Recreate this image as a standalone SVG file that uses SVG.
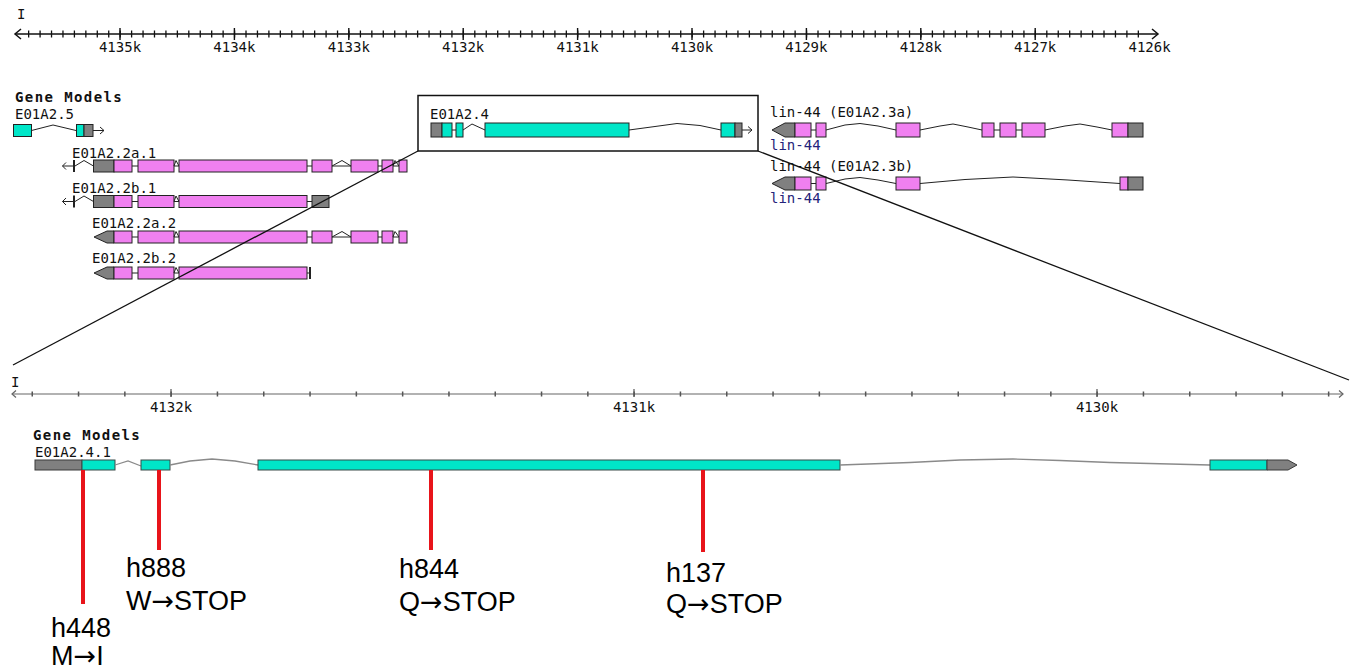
<svg xmlns="http://www.w3.org/2000/svg" width="1350" height="671" viewBox="0 0 1350 671">
<defs>
<style>
.t{font-family:"DejaVu Sans Mono","Liberation Mono",monospace;font-size:14px;fill:#111}
.tb{font-family:"DejaVu Sans Mono","Liberation Mono",monospace;font-size:14px;font-weight:bold;letter-spacing:1.4px;fill:#111}
.lbl{font-family:"DejaVu Sans Mono",monospace;font-size:14px;fill:#111;text-anchor:middle}
.blue{fill:#23237a}
.cy{fill:#00e6c8;stroke:#222;stroke-width:1}
.pk{fill:#f080f0;stroke:#222;stroke-width:1}
.gr{fill:#808080;stroke:#222;stroke-width:1}
.in{fill:none;stroke:#222;stroke-width:1}
.bcy{fill:#00e6c8;stroke:#3a4a48;stroke-width:1}
.bgr{fill:#808080;stroke:#3a3a3a;stroke-width:1}
.bin{fill:none;stroke:#8a8a8a;stroke-width:1.3}
.red{stroke:#e8141a;stroke-width:4}
.mut{font-family:"Liberation Sans",Arial,sans-serif;font-size:27px;fill:#000}
.ar{font-family:"DejaVu Sans",sans-serif}
</style>
</defs>
<rect width="1350" height="671" fill="#fff"/>

<g id="ruler-top">
<text class="t" x="17" y="19" font-size="12">I</text>
<line x1="15" y1="34" x2="1158" y2="34" stroke="#111" stroke-width="1.5"/>
<polyline points="21,29 15,34 21,39" fill="none" stroke="#111" stroke-width="1.5"/>
<polyline points="1152,29 1158,34 1152,39" fill="none" stroke="#111" stroke-width="1.5"/>
<line x1="28" y1="34" x2="1140" y2="34" stroke="#111" stroke-width="7" stroke-dasharray="1.3 10.14"/>
<path d="M120 28v12M234.4 28v12M348.8 28v12M463.2 28v12M577.6 28v12M692 28v12M806.4 28v12M920.8 28v12M1035.2 28v12" stroke="#111" stroke-width="1.4"/>
<text class="lbl" x="120" y="52">4135k</text>
<text class="lbl" x="234.4" y="52">4134k</text>
<text class="lbl" x="348.8" y="52">4133k</text>
<text class="lbl" x="463.2" y="52">4132k</text>
<text class="lbl" x="577.6" y="52">4131k</text>
<text class="lbl" x="692" y="52">4130k</text>
<text class="lbl" x="806.4" y="52">4129k</text>
<text class="lbl" x="920.8" y="52">4128k</text>
<text class="lbl" x="1035.2" y="52">4127k</text>
<text class="lbl" x="1149.6" y="52">4126k</text>
</g>

<text class="tb" x="15" y="102">Gene Models</text>

<g id="E01A2.5">
<text class="t" x="15" y="119">E01A2.5</text>
<rect class="cy" x="13.5" y="124.5" width="18" height="12"/>
<polyline class="in" points="31.5,130.5 53,125 76,130.5"/>
<rect class="cy" x="76.5" y="124.5" width="7.5" height="12"/>
<rect class="gr" x="84" y="124.5" width="9" height="12"/>
<line x1="93" y1="130.5" x2="104" y2="130.5" stroke="#222"/>
<polyline class="in" points="100,127 104,130.5 100,134"/>
</g>

<g id="E01A2.2a.1">
<text class="t" x="72" y="158">E01A2.2a.1</text>
<polyline class="in" points="66,162.5 62.5,166 66,169.5"/>
<line x1="62.5" y1="166" x2="75" y2="166" stroke="#222"/>
<line x1="74" y1="160" x2="74" y2="172" stroke="#222" stroke-width="2"/>
<polyline class="in" points="75,166 84,160.5 93.5,166"/>
<line x1="114" y1="166" x2="399" y2="166" stroke="#222"/>
<rect class="gr" x="93.5" y="160" width="20.5" height="12"/>
<rect class="pk" x="114" y="160" width="18" height="12"/>
<rect class="pk" x="138" y="160" width="36" height="12"/>
<polyline class="in" points="174,166 176,160.5 179,166"/>
<rect class="pk" x="179" y="160" width="128" height="12"/>
<rect class="pk" x="312" y="160" width="20" height="12"/>
<polyline class="in" points="332,166 342,160.5 351,166" fill="#fff"/>
<rect class="pk" x="351" y="160" width="27" height="12"/>
<rect class="pk" x="382" y="160" width="11" height="12"/>
<polyline class="in" points="393,166 395,160.5 399,166"/>
<rect class="pk" x="399" y="160" width="8" height="12"/>
</g>

<g id="E01A2.2b.1">
<text class="t" x="72" y="193">E01A2.2b.1</text>
<polyline class="in" points="66,198 62.5,201.5 66,205"/>
<line x1="62.5" y1="201.5" x2="75" y2="201.5" stroke="#222"/>
<line x1="74" y1="195.5" x2="74" y2="207.5" stroke="#222" stroke-width="2"/>
<polyline class="in" points="75,201.5 84,196 93.5,201.5"/>
<line x1="114" y1="201.5" x2="312" y2="201.5" stroke="#222"/>
<rect class="gr" x="93.5" y="195.5" width="20.5" height="12"/>
<rect class="pk" x="114" y="195.5" width="18" height="12"/>
<rect class="pk" x="138" y="195.5" width="36" height="12"/>
<polyline class="in" points="174,201.5 176,196 179,201.5"/>
<rect class="pk" x="179" y="195.5" width="128" height="12"/>
<rect class="gr" x="312" y="195.5" width="17" height="12"/>
</g>

<g id="E01A2.2a.2">
<text class="t" x="92" y="228">E01A2.2a.2</text>
<line x1="114" y1="237" x2="399" y2="237" stroke="#222"/>
<polygon class="gr" points="94,237 107,231 114,231 114,243 107,243"/>
<rect class="pk" x="114" y="231" width="18" height="12"/>
<rect class="pk" x="138" y="231" width="36" height="12"/>
<polyline class="in" points="174,237 176,231.5 179,237"/>
<rect class="pk" x="179" y="231" width="128" height="12"/>
<rect class="pk" x="312" y="231" width="20" height="12"/>
<polyline class="in" points="332,237 342,231.5 351,237"/>
<rect class="pk" x="351" y="231" width="27" height="12"/>
<rect class="pk" x="382" y="231" width="11" height="12"/>
<polyline class="in" points="393,237 395,231.5 399,237"/>
<rect class="pk" x="399" y="231" width="8" height="12"/>
</g>

<g id="E01A2.2b.2">
<text class="t" x="92" y="263">E01A2.2b.2</text>
<line x1="114" y1="273" x2="310" y2="273" stroke="#222"/>
<polygon class="gr" points="94,273 107,267 114,267 114,279 107,279"/>
<rect class="pk" x="114" y="267" width="18" height="12"/>
<rect class="pk" x="138" y="267" width="36" height="12"/>
<polyline class="in" points="174,273 176,267.5 179,273"/>
<rect class="pk" x="179" y="267" width="128" height="12"/>
<line x1="310" y1="267" x2="310" y2="279" stroke="#222" stroke-width="2"/>
</g>

<g id="E01A2.4">
<rect x="418" y="95.5" width="340" height="55.5" fill="none" stroke="#111" stroke-width="1.5"/>
<text class="t" x="430" y="119">E01A2.4</text>
<rect class="gr" x="431" y="123" width="11" height="14"/>
<rect class="cy" x="442" y="123" width="10" height="14"/>
<line x1="452" y1="130" x2="456" y2="130" stroke="#222"/>
<rect class="cy" x="456" y="123" width="7" height="14"/>
<polyline class="in" points="463,130 472,124 485,130"/>
<rect class="cy" x="485" y="123" width="144" height="14"/>
<polyline class="in" points="629,130 655,126.5 677,123.5 700,125.5 721,130"/>
<rect class="cy" x="721" y="123" width="14" height="14"/>
<rect class="gr" x="735" y="123" width="7" height="14"/>
<line x1="742" y1="130" x2="752" y2="130" stroke="#222"/>
<polyline class="in" points="748,126.5 752,130 748,133.5"/>
</g>

<g id="lin-44a">
<text class="t" x="770" y="117">lin-44 (E01A2.3a)</text>
<polygon class="gr" points="772,130 785,123 795,123 795,137 785,137"/>
<rect class="pk" x="795" y="123" width="16" height="14"/>
<line x1="811" y1="130" x2="816" y2="130" stroke="#222"/>
<rect class="pk" x="816" y="123" width="10" height="14"/>
<polyline class="in" points="826,130 845,125 860,123.5 878,126 896,130"/>
<rect class="pk" x="896" y="123" width="24" height="14"/>
<polyline class="in" points="920,130 940,126 953,124 968,127 982,130"/>
<rect class="pk" x="982" y="123" width="12" height="14"/>
<line x1="994" y1="130" x2="1000" y2="130" stroke="#222"/>
<rect class="pk" x="1000" y="123" width="16" height="14"/>
<line x1="1016" y1="130" x2="1022" y2="130" stroke="#222"/>
<rect class="pk" x="1022" y="123" width="23" height="14"/>
<polyline class="in" points="1045,130 1065,126 1080,124 1097,127 1112,130"/>
<rect class="pk" x="1112" y="123" width="16" height="14"/>
<rect class="gr" x="1128" y="123" width="15" height="14"/>
<text class="t blue" x="770" y="150">lin-44</text>
</g>

<g id="lin-44b">
<text class="t" x="770" y="171">lin-44 (E01A2.3b)</text>
<polygon class="gr" points="772,183.5 785,177 795,177 795,190 785,190"/>
<rect class="pk" x="795" y="177" width="16" height="13"/>
<line x1="811" y1="183.5" x2="816" y2="183.5" stroke="#222"/>
<rect class="pk" x="816" y="177" width="10" height="13"/>
<polyline class="in" points="826,183.5 845,179 860,177.5 878,180 896,183.5"/>
<rect class="pk" x="896" y="177" width="24" height="13"/>
<polyline class="in" points="920,183.5 965,179.5 1013,177 1068,180 1120,183.5"/>
<rect class="pk" x="1120" y="177" width="8" height="13"/>
<rect class="gr" x="1128" y="177" width="15" height="13"/>
<text class="t blue" x="770" y="203">lin-44</text>
</g>

<g id="connectors">
<line x1="418" y1="151" x2="13" y2="365" stroke="#111" stroke-width="1.3"/>
<line x1="758" y1="151" x2="1349" y2="380" stroke="#111" stroke-width="1.3"/>
</g>

<g id="ruler-bottom">
<text class="t" x="11" y="387" font-size="11">I</text>
<line x1="12" y1="394" x2="1343" y2="394" stroke="#666" stroke-width="1.2"/>
<polyline points="16,390.5 12,394 16,397.5" fill="none" stroke="#666" stroke-width="1.2"/>
<polyline points="1339,390.5 1343,394 1339,397.5" fill="none" stroke="#666" stroke-width="1.2"/>
<line x1="31.5" y1="394" x2="1330" y2="394" stroke="#555" stroke-width="5" stroke-dasharray="1.5 44.8"/>
<path d="M171 389v8M634 389v8M1097 389v8" stroke="#555" stroke-width="1.2"/>
<text class="lbl" x="171" y="412">4132k</text>
<text class="lbl" x="634" y="412">4131k</text>
<text class="lbl" x="1097" y="412">4130k</text>
</g>

<text class="tb" x="33" y="440">Gene Models</text>

<g id="E01A2.4.1">
<text class="t" x="35" y="457">E01A2.4.1</text>
<rect class="bgr" x="35" y="460" width="47" height="10"/>
<rect class="bcy" x="82" y="460" width="33" height="10"/>
<polyline class="bin" points="115,465 128,461 141,466"/>
<rect class="bcy" x="141" y="460" width="29" height="10"/>
<polyline class="bin" points="170,465 190,461 212,459 235,461 258,465"/>
<rect class="bcy" x="258" y="460" width="582" height="10"/>
<polyline class="bin" points="840,465 910,462.5 960,460 1013,459 1060,460.5 1110,462.5 1210,465"/>
<rect class="bcy" x="1210" y="460" width="57" height="10"/>
<polygon class="bgr" points="1267,460 1288,460 1297,465 1288,470 1267,470"/>
</g>

<g id="mutations">
<line class="red" x1="83" y1="470" x2="83" y2="604"/>
<line class="red" x1="159" y1="470" x2="159" y2="550"/>
<line class="red" x1="431" y1="470" x2="431" y2="550"/>
<line class="red" x1="703" y1="470" x2="703" y2="552"/>
<text class="mut" x="126" y="577">h888</text>
<text class="mut" x="126" y="610">W<tspan class="ar">→</tspan>STOP</text>
<text class="mut" x="51" y="637">h448</text>
<text class="mut" x="51" y="665">M<tspan class="ar">→</tspan>I</text>
<text class="mut" x="399" y="578">h844</text>
<text class="mut" x="399" y="611">Q<tspan class="ar">→</tspan>STOP</text>
<text class="mut" x="666" y="582">h137</text>
<text class="mut" x="666" y="613">Q<tspan class="ar">→</tspan>STOP</text>
</g>
</svg>
